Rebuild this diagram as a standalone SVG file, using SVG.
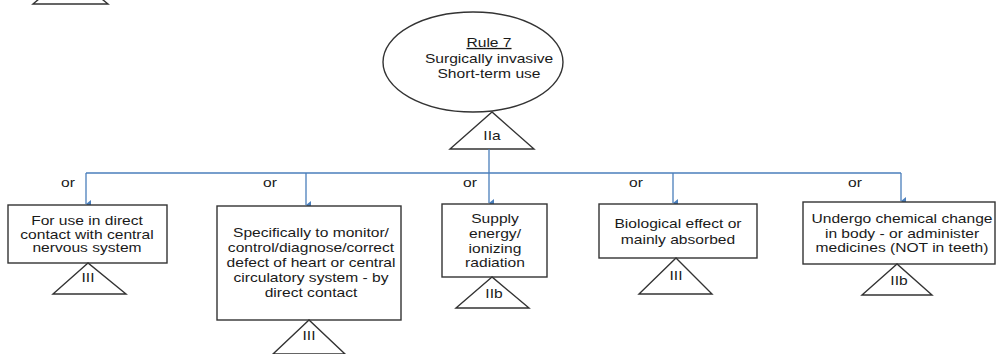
<svg xmlns="http://www.w3.org/2000/svg" width="999" height="354" viewBox="0 0 999 354">
<style>
.t{font-family:"Liberation Sans",Arial,sans-serif;font-size:13px;fill:#1a1a1a;text-anchor:middle}
.s{fill:#fff;stroke:#333;stroke-width:1.4}
.c{fill:none;stroke:#4a7ebb;stroke-width:1.3}
</style>
<defs>
<marker id="ah" markerWidth="8" markerHeight="8" refX="4" refY="6" orient="auto" markerUnits="userSpaceOnUse" viewBox="0 0 8 8">
<path d="M0,1 L8,1 L4,6 Z" fill="#4a7ebb"/>
</marker>
</defs>
<rect width="999" height="354" fill="#fff"/>
<g id="cut-triangle"><polygon class="s" points="70,-27 33,4 108,4"/></g>
<g id="rule7">
<ellipse class="s" cx="473" cy="62" rx="90" ry="50"/>
<text class="t" transform="translate(489,0) scale(1.2,1)"><tspan x="0" y="47" text-decoration="underline">Rule 7</tspan><tspan x="0" y="63">Surgically invasive</tspan><tspan x="0" y="78">Short-term use</tspan></text>
</g>
<g id="tri-IIa"><polygon class="s" points="492,112 450,149 534,149"/><text class="t" transform="translate(492,0) scale(1.2,1)" x="0" y="140">IIa</text></g>
<g id="connectors">
<path class="c" d="M86,173 H901"/>
<path class="c" d="M86,173 V204" marker-end="url(#ah)"/>
<path class="c" d="M306,173 V205" marker-end="url(#ah)"/>
<path class="c" d="M489,149 V203" marker-end="url(#ah)"/>
<path class="c" d="M673,173 V203" marker-end="url(#ah)"/>
<path class="c" d="M901,173 V201" marker-end="url(#ah)"/>
<text class="t" transform="translate(68,0) scale(1.2,1)" x="0" y="187">or</text>
<text class="t" transform="translate(270,0) scale(1.2,1)" x="0" y="187">or</text>
<text class="t" transform="translate(470,0) scale(1.2,1)" x="0" y="187">or</text>
<text class="t" transform="translate(636,0) scale(1.2,1)" x="0" y="187">or</text>
<text class="t" transform="translate(855,0) scale(1.2,1)" x="0" y="187">or</text>
</g>
<g id="box1">
<rect class="s" x="8" y="205" width="159" height="58"/>
<text class="t" transform="translate(87,0) scale(1.2,1)"><tspan x="0" y="225">For use in direct</tspan><tspan x="0" y="239">contact with central</tspan><tspan x="0" y="252">nervous system</tspan></text>
<polygon class="s" points="88,263 53,294 126,294"/>
<text class="t" transform="translate(88,0) scale(1.2,1)" x="0" y="282">III</text>
</g>
<g id="box2">
<rect class="s" x="217" y="206" width="184" height="114"/>
<text class="t" transform="translate(311,0) scale(1.2,1)"><tspan x="0" y="237">Specifically to monitor/</tspan><tspan x="0" y="252">control/diagnose/correct</tspan><tspan x="0" y="267">defect of heart or central</tspan><tspan x="0" y="282">circulatory system - by</tspan><tspan x="0" y="297">direct contact</tspan></text>
<polygon class="s" points="309,320 273,354 345,354"/>
<text class="t" transform="translate(309,0) scale(1.2,1)" x="0" y="340">III</text>
</g>
<g id="box3">
<rect class="s" x="442" y="204" width="105" height="73"/>
<text class="t" transform="translate(495,0) scale(1.2,1)"><tspan x="0" y="223">Supply</tspan><tspan x="0" y="238">energy/</tspan><tspan x="0" y="253">ionizing</tspan><tspan x="0" y="267">radiation</tspan></text>
<polygon class="s" points="492,277 456,308 529,308"/>
<text class="t" transform="translate(494,0) scale(1.2,1)" x="0" y="298">IIb</text>
</g>
<g id="box4">
<rect class="s" x="599" y="204" width="158" height="54"/>
<text class="t" transform="translate(678,0) scale(1.2,1)"><tspan x="0" y="228">Biological effect or</tspan><tspan x="0" y="244">mainly absorbed</tspan></text>
<polygon class="s" points="676,258 639,294 712,294"/>
<text class="t" transform="translate(676,0) scale(1.2,1)" x="0" y="280">III</text>
</g>
<g id="box5">
<rect class="s" x="803" y="202" width="192" height="62"/>
<text class="t" transform="translate(902,0) scale(1.2,1)"><tspan x="0" y="223">Undergo chemical change</tspan><tspan x="0" y="238">in body - or administer</tspan><tspan x="0" y="252">medicines (NOT in teeth)</tspan></text>
<polygon class="s" points="897,264 862,295 932,295"/>
<text class="t" transform="translate(899,0) scale(1.2,1)" x="0" y="285">IIb</text>
</g>
</svg>
